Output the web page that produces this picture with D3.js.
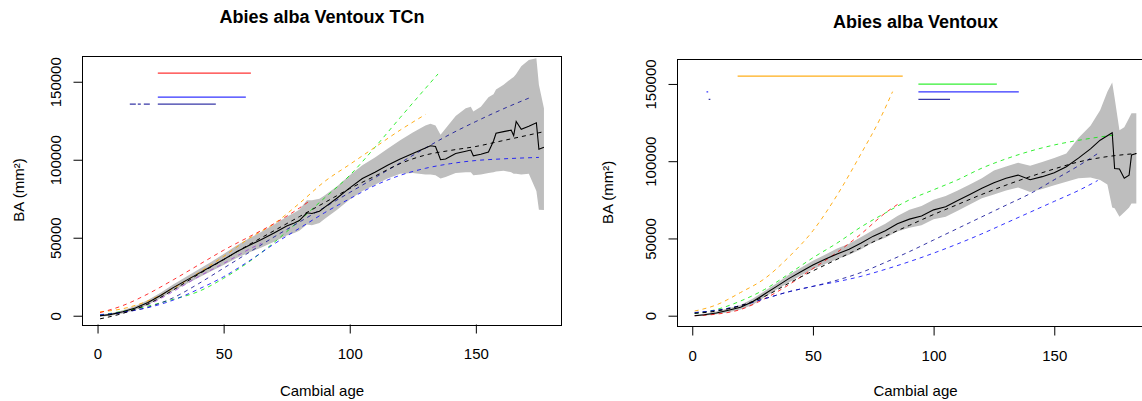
<!DOCTYPE html>
<html><head><meta charset="utf-8">
<script src="https://cdn.jsdelivr.net/npm/d3@7"></script>
<style>body{margin:0;background:#fff} svg{display:block;font-family:"Liberation Sans",Arial,Helvetica,sans-serif}</style>
</head><body>
<svg id="chart" width="1142" height="401"></svg>
<script>
// ---------- Left panel data (Abies alba Ventoux TCn) ----------
const titleL = "Abies alba Ventoux TCn";
const agesL = [1,5,10,15,20,25,30,35,40,45,50,55,60,65,70,75,78,80,83,85,88,90,95,100,105,110,115,120,125,130,132,134,136,138,142,146,148,149,152,155,157,158,161,164,165,166,168,171,174,175,177];
const meanL = [0,700,2500,5000,8500,13000,18000,22500,27000,31500,36000,40800,45000,48800,53000,57500,59500,61000,66000,65500,67000,69500,75500,82000,88000,92000,96500,100500,104000,107500,109000,108500,100000,100500,104000,105500,106200,102500,103500,105000,112000,117000,118000,119000,115500,124500,119500,121500,123700,106700,108000];
const hiL = [600,1500,3500,6300,10000,14800,20000,24800,29700,34500,39500,44800,49500,53800,58500,63500,66000,68000,74000,74000,75000,77000,83000,90000,96500,101500,107000,112500,117500,122000,123000,122000,116000,120000,128000,133000,134000,131000,134000,140000,142000,145000,148000,152000,153000,155000,160000,164000,165000,148000,133000];
const loL = [-600,0,1500,3700,7000,11200,16000,20200,24300,28500,32500,36800,40500,43800,47500,51500,53000,54500,58500,58000,59500,62000,68000,74500,80000,84000,88000,91000,91500,90500,90500,90000,88000,89000,91500,92000,92000,90000,90500,91500,92000,92500,93000,92000,91000,91000,90500,91000,80000,68000,67800];
const fitAgesL = [1,10,20,30,40,50,60,70,80,90,100,110,120,130,140,150,160,170,177];
const fitL = [-2000,1500,7500,16500,26500,36000,45500,54500,63500,72500,81500,89500,97500,103000,106000,108500,112000,115500,118000];
const redAgesL = [1,10,20,30,40,50,60,70,80,84];
const redL = [2000,6500,14000,23000,32500,42000,50500,59000,69000,73500];
const orangeAgesL = [1,10,20,30,40,50,60,70,80,90,100,110,120,130];
const orangeL = [2500,4500,9500,17500,27500,38000,49500,59000,72000,86000,97000,108000,119000,129000];
const greenAgesL = [1,10,20,30,40,50,60,70,80,90,100,110,120,135];
const greenL = [500,2800,6200,10500,15500,24000,34500,47000,61000,75500,90000,108000,127000,155000];
const navyAgesL = [1,10,20,30,40,50,60,70,80,90,100,110,120,130,140,150,160,171];
const navyL = [0,2000,5500,11500,20500,30500,40500,50500,60000,69500,79000,88500,98000,107500,116500,124500,132000,139500];
const blueAgesL = [1,10,20,30,40,50,60,70,80,90,100,110,120,130,140,150,160,175];
const blueL = [500,2300,5200,10000,17000,25000,35000,46000,56000,66000,75000,83500,90000,94500,97500,99500,100500,101500];
const purpleAgesL = [1,10,20,30,40,50,60,65];
const purpleL = [800,2300,7000,15500,25000,33500,42500,46500];
// horizontal segments near top (left)
const segL_x1 = [23.9, 23.9, 23.9, 12.8];
const segL_x2 = [60.8, 58.8, 46.9, 20.8];
const segL_y  = [155500, 140200, 135700, 135700];
const segL_col = ["red", "blue", "navy", "navy"];
const segL_dash = [false, false, false, true];

// ---------- Right panel data (Abies alba Ventoux) ----------
const titleR = "Abies alba Ventoux";
const agesR = [1,5,10,15,20,25,30,35,40,45,50,55,60,65,70,75,80,85,90,95,100,105,110,115,120,125,130,135,140,145,150,155,160,165,169,172,174,175,177,179,181,182,184];
const meanR = [0,600,1800,3500,5500,9000,14000,19000,24000,28500,32800,36500,40000,43000,47000,51500,55000,59500,62500,64500,68500,70500,74500,78500,82500,86000,89000,91000,88000,90000,92500,96400,102000,108000,113600,116500,118400,95300,95000,89000,91000,104000,105000];
const hiR = [400,1200,2800,4800,7000,11000,16000,21000,26500,31000,35500,39500,43500,46500,51000,55500,59500,64500,68500,71000,75000,77500,81000,85000,89000,94000,96500,99000,97000,99500,102000,105000,115000,123000,133000,145000,151000,141000,120000,122000,128000,131000,131000];
const loR = [-400,0,900,2300,4000,7000,12000,17000,21500,26000,30000,33500,36500,39500,43000,47500,50500,54500,57000,58500,62500,64000,68000,72000,76000,78500,81000,83000,80000,82000,84500,86700,89000,89500,87800,85000,70000,69500,64000,67000,70000,72700,72700];
const fitAgesR = [1,10,20,30,40,50,60,70,80,90,100,110,120,130,140,150,160,170,184];
const fitR = [1500,3000,6500,12500,21000,29000,36500,44000,51500,58500,65500,72000,78500,84500,90000,95000,99500,102500,105000];
const orangeAgesR = [1,10,20,30,40,50,60,70,78,83];
const orangeR = [3000,7000,15000,24000,38000,55000,78000,105000,128000,145000];
const greenAgesR = [1,10,20,30,40,50,60,70,80,90,100,110,120,130,140,150,160,175];
const greenR = [1500,4000,9500,17000,27000,37500,47000,57500,66500,75000,81500,88000,95500,101500,106500,110500,113500,117000];
const redAgesR = [1,10,20,30,40,50,60,70,80,86];
const redR = [0,1000,4000,11000,20000,30500,41000,53000,66500,73000];
const navyAgesR = [1,10,20,30,40,50,60,70,80,90,100,110,120,130,140,150,160,169];
const navyR = [2000,3500,6500,11000,15500,19000,23000,28000,34500,41500,49000,56500,64000,71500,79000,88000,97000,106000];
const blueAgesR = [1,10,20,30,40,50,60,70,80,90,100,110,120,130,140,150,160,168];
const blueR = [2000,3500,6500,11000,15500,19000,22000,25500,30000,35000,40500,46500,53000,60000,67000,74000,81000,87500];
const segR_x1 = [18.8, 93.7, 93.7, 93.7, 5.9, 6.8];
const segR_x2 = [87.2, 126.2, 135.3, 106.8, 6.6, 7.5];
const segR_y  = [155045, 149870, 144890, 139970, 144890, 139970];
const segR_col = ["orange", "green", "blue", "navy", "blue", "navy"];
const segR_dash = [false, false, false, false, false, false];

const xTicks = [0, 50, 100, 150];
const yTicks = [0, 50000, 100000, 150000];

const COLORS = {
  red: "rgba(255,0,0,0.8)",
  orange: "rgba(255,165,0,0.9)",
  green: "rgba(0,235,0,0.8)",
  blue: "rgba(0,0,255,0.8)",
  navy: "rgba(20,20,150,0.85)",
  purple: "rgba(150,40,220,0.7)"
};

const svg = d3.select("#chart");

function zip(a, v) { return a.map((d, i) => [d, v[i]]); }

function drawPanel(cfg, id) {
  const x = d3.scaleLinear().domain(cfg.xDomain).range([cfg.left, cfg.right]);
  const y = d3.scaleLinear().domain(cfg.yDomain).range([cfg.bottom, cfg.top]);
  const g = svg.append("g");

  const clipId = "clip" + id;
  svg.append("clipPath").attr("id", clipId).append("rect")
    .attr("x", cfg.left).attr("y", cfg.top)
    .attr("width", cfg.right - cfg.left).attr("height", cfg.bottom - cfg.top);
  const plot = g.append("g").attr("clip-path", `url(#${clipId})`);

  // band
  const area = d3.area().x(d => x(d[0])).y0(d => y(d[1])).y1(d => y(d[2]));
  plot.append("path")
    .datum(cfg.ages.map((a, i) => [a, cfg.lo[i], cfg.hi[i]]))
    .attr("d", area).attr("fill", "#bebebe").attr("stroke", "none");

  const line = d3.line().x(d => x(d[0])).y(d => y(d[1])).curve(d3.curveMonotoneX);
  const lineRaw = d3.line().x(d => x(d[0])).y(d => y(d[1]));

  cfg.curves.forEach(c => {
    plot.append("path").datum(zip(c.ages, c.vals))
      .attr("d", line).attr("fill", "none")
      .attr("stroke", COLORS[c.col]).attr("stroke-width", 1)
      .attr("stroke-dasharray", "4,4");
  });

  // fitted black dashed
  plot.append("path").datum(zip(cfg.fitAges, cfg.fit))
    .attr("d", line).attr("fill", "none").attr("stroke", "#000")
    .attr("stroke-width", 1).attr("stroke-dasharray", "4,4");

  // mean black solid
  plot.append("path").datum(zip(cfg.ages, cfg.mean))
    .attr("d", lineRaw).attr("fill", "none").attr("stroke", "#000")
    .attr("stroke-width", 1.1);

  // horizontal segments
  cfg.seg.x1.forEach((x1, i) => {
    plot.append("line")
      .attr("x1", x(x1)).attr("x2", x(cfg.seg.x2[i]))
      .attr("y1", y(cfg.seg.y[i])).attr("y2", y(cfg.seg.y[i]))
      .attr("stroke", COLORS[cfg.seg.col[i]]).attr("stroke-width", 1.3)
      .attr("stroke-dasharray", cfg.seg.dash[i] ? "6,2,3,3" : null);
  });

  // box
  g.append("rect")
    .attr("x", Math.round(cfg.left) + 0.5).attr("y", Math.round(cfg.top) + 0.5)
    .attr("width", Math.round(cfg.right - cfg.left)).attr("height", Math.round(cfg.bottom - cfg.top))
    .attr("fill", "none").attr("stroke", "#000").attr("stroke-width", 1);

  // x axis
  const xa = g.append("g").attr("transform", `translate(0,${Math.round(cfg.bottom) + 0.5})`)
    .call(d3.axisBottom(x).tickValues(xTicks).tickSize(9).tickSizeOuter(0).tickFormat(d3.format("d")));
  xa.select(".domain").remove();
  xa.selectAll(".tick line").attr("stroke", "#000");
  xa.selectAll(".tick text").attr("font-size", 15).attr("fill", "#000")
    .attr("y", 24).attr("dy", "0.71em").attr("font-family", "Liberation Sans, Arial, sans-serif");

  // y axis
  const ya = g.append("g").attr("transform", `translate(${Math.round(cfg.left) + 0.5},0)`)
    .call(d3.axisLeft(y).tickValues(yTicks).tickSize(9).tickSizeOuter(0).tickFormat(d3.format("d")));
  ya.select(".domain").remove();
  ya.selectAll(".tick line").attr("stroke", "#000");
  ya.selectAll(".tick text").attr("font-size", 15).attr("fill", "#000")
    .attr("x", 0).attr("y", 0).attr("dy", 0)
    .attr("text-anchor", "middle")
    .attr("transform", `translate(${cfg.yLabOff},0) rotate(-90)`)
    .attr("font-family", "Liberation Sans, Arial, sans-serif");

  const cx = (cfg.left + cfg.right) / 2;
  // title
  g.append("text").attr("x", cx).attr("y", cfg.titleY).attr("text-anchor", "middle")
    .attr("font-size", 18).attr("font-weight", "bold").text(cfg.title);
  // x label
  g.append("text").attr("x", cx).attr("y", 396).attr("text-anchor", "middle")
    .attr("font-size", 15).text("Cambial age");
  // y label
  const cy = (cfg.top + cfg.bottom) / 2;
  g.append("text").attr("transform", `translate(${cfg.yTitleX},${cy}) rotate(-90)`)
    .attr("text-anchor", "middle").attr("font-size", 15).text("BA (mm²)");
}

drawPanel({
  title: titleL, titleY: 23,
  xDomain: [-6.04, 184.04], yDomain: [-5500, 166700],
  left: 82.3, right: 561.7, top: 55.7, bottom: 324.3,
  yLabOff: -22, yTitleX: 24,
  ages: agesL, mean: meanL, hi: hiL, lo: loL,
  fitAges: fitAgesL, fit: fitL,
  curves: [
    {ages: purpleAgesL, vals: purpleL, col: "purple"},
    {ages: greenAgesL, vals: greenL, col: "green"},
    {ages: orangeAgesL, vals: orangeL, col: "orange"},
    {ages: redAgesL, vals: redL, col: "red"},
    {ages: blueAgesL, vals: blueL, col: "blue"},
    {ages: navyAgesL, vals: navyL, col: "navy"}
  ],
  seg: {x1: segL_x1, x2: segL_x2, y: segL_y, col: segL_col, dash: segL_dash}
}, "L");

drawPanel({
  title: titleR, titleY: 28,
  xDomain: [-6.32, 191.32], yDomain: [-6472, 166149],
  left: 677, right: 1154, top: 59, bottom: 325.7,
  yLabOff: -21.6, yTitleX: 613,
  ages: agesR, mean: meanR, hi: hiR, lo: loR,
  fitAges: fitAgesR, fit: fitR,
  curves: [
    {ages: orangeAgesR, vals: orangeR, col: "orange"},
    {ages: greenAgesR, vals: greenR, col: "green"},
    {ages: redAgesR, vals: redR, col: "red"},
    {ages: blueAgesR, vals: blueR, col: "blue"},
    {ages: navyAgesR, vals: navyR, col: "navy"}
  ],
  seg: {x1: segR_x1, x2: segR_x2, y: segR_y, col: segR_col, dash: segR_dash}
}, "R");
</script>
</body></html>
